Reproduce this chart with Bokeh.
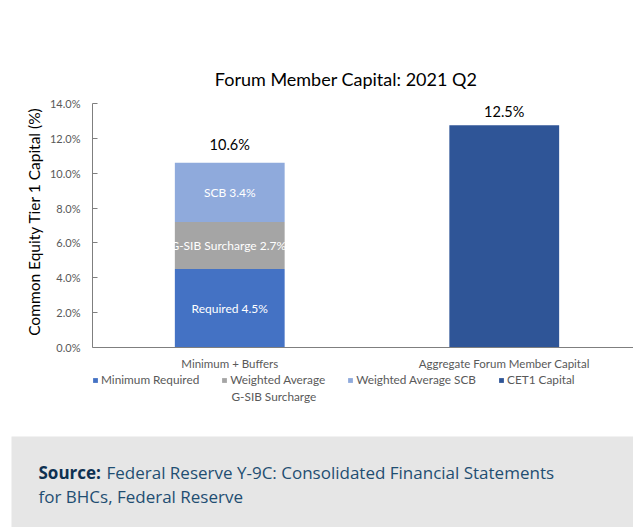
from bokeh.plotting import figure
from bokeh.models import (Range1d, FixedTicker, PrintfTickFormatter, Legend,
                          LegendItem, Label)
from bokeh.layouts import column
from bokeh.embed import file_html
from bokeh.resources import INLINE
from bokeh.core.properties import value

# ---------------- data ----------------
categories = ["Minimum + Buffers", "Aggregate Forum Member Capital"]
stack_names = ["Minimum Required", "Weighted Average\nG-SIB Surcharge", "Weighted Average SCB"]
stack_values = [4.5, 2.7, 3.4]
stack_labels = ["Required 4.5%", "G-SIB Surcharge  2.7%", "SCB 3.4%"]
stack_colors = ["#4472C4", "#A5A5A5", "#8FAADC"]
cet1_name = "CET1 Capital"
cet1_value = 12.75
cet1_color = "#2F5597"
total_labels = ["10.6%", "12.5%"]
y_ticks = [0, 2, 4, 6, 8, 10, 12, 14]
title_text = "Forum Member Capital: 2021 Q2"
y_title = "Common Equity Tier 1 Capital (%)"
source_bold = "Source:"
source_lines = ["Federal Reserve Y-9C: Consolidated Financial Statements",
                "for BHCs, Federal Reserve"]

FONT = "Lato"
xs = [i + 0.5 for i in range(len(categories))]

PX = 244 / 14.0            # pixels per percentage point (0% at y=347, 14% at y=103)
XPX = 274.5                # pixels per category
FRAME_TOP, FRAME_BOT = 36, 406
y_start = -(FRAME_BOT - 347) / PX
y_end = y_ticks[-1] + (103 - FRAME_TOP) / PX

p = figure(width=633, height=436, x_range=Range1d(0, 541 / XPX), y_range=Range1d(y_start, y_end),
           output_backend="svg", toolbar_location=None,
           min_border_left=92, min_border_right=0, min_border_top=FRAME_TOP,
           min_border_bottom=436 - FRAME_BOT,
           background_fill_color="white", border_fill_color="white", outline_line_color=None)
p.grid.visible = False
p.frame_align = False

# stacked bar
renderers = []
bottom = 0.0
mids = []
for name, val, col in zip(stack_names, stack_values, stack_colors):
    r = p.vbar(x=[xs[0]], bottom=[bottom], top=[bottom + val], width=0.4,
               fill_color=col, line_color=None)
    renderers.append(r)
    mids.append(bottom + val / 2)
    bottom += val
r4 = p.vbar(x=[xs[1]], bottom=[0], top=[cet1_value], width=0.4, fill_color=cet1_color, line_color=None)
renderers.append(r4)

p.text(x=[xs[0]] * len(stack_labels), y=mids, text=stack_labels, text_color="white",
       text_align="center", text_baseline="middle", text_font=value(FONT), text_font_size="12px")

p.text(x=xs, y=[bottom, cet1_value], text=total_labels, y_offset=[-18, -14], text_color="black",
       text_align="center", text_baseline="middle", text_font=value(FONT), text_font_size="14.5px")

p.add_layout(Label(x=(345.5 - 92) / XPX, y=(347.3 - 79) / PX, text=title_text,
                   text_align="center", text_baseline="middle", text_font=FONT,
                   text_font_size="18px", text_color="black"))

# axes
p.yaxis.bounds = (y_ticks[0], y_ticks[-1])
p.yaxis.ticker = FixedTicker(ticks=y_ticks)
p.yaxis.formatter = PrintfTickFormatter(format="%.1f%%")
p.yaxis.axis_label = y_title
p.yaxis.axis_label_text_font = FONT
p.yaxis.axis_label_text_font_size = "15.5px"
p.yaxis.axis_label_text_font_style = "normal"
p.yaxis.axis_label_text_color = "black"
p.yaxis.axis_label_standoff = 4
p.yaxis.major_label_text_font = FONT
p.yaxis.major_label_text_font_size = "11px"
p.yaxis.major_label_text_color = "#595959"
p.yaxis.major_label_standoff = 12
p.yaxis.axis_line_color = "#7f7f7f"
p.yaxis.major_tick_line_color = "#7f7f7f"
p.yaxis.major_tick_in = 5
p.yaxis.major_tick_out = 0
p.yaxis.minor_tick_line_color = None

p.xaxis.fixed_location = 0
p.xaxis.ticker = FixedTicker(ticks=xs)
p.xaxis.major_label_overrides = {x: c for x, c in zip(xs, categories)}
p.xaxis.major_label_text_font = FONT
p.xaxis.major_label_text_font_size = "11.5px"
p.xaxis.major_label_text_color = "#595959"
p.xaxis.major_label_standoff = 9
p.xaxis.axis_line_color = "#7f7f7f"
p.xaxis.major_tick_line_color = None
p.xaxis.major_tick_in = 0
p.xaxis.major_tick_out = 0
p.xaxis.minor_tick_line_color = None

# legend: first line of each name in the legend, wrapped second line as a label
legend_names = stack_names + [cet1_name]
legend = Legend(items=[LegendItem(label=n.split("\n")[0], renderers=[r])
                       for n, r in zip(legend_names, renderers)],
                orientation="horizontal", location=(0, 19),
                glyph_width=6, glyph_height=6, label_standoff=3, spacing=22,
                padding=0, margin=0, border_line_alpha=0, background_fill_alpha=0,
                label_text_font=FONT, label_text_font_size="11.8px",
                label_text_color="#595959", label_height=12)
p.add_layout(legend, "center")
for n in legend_names:
    if "\n" in n:
        p.add_layout(Label(x=(231 - 92) / XPX, y=(347.3 - 396) / PX, text=n.split("\n")[1],
                           text_baseline="middle", text_font=FONT, text_font_size="11.8px",
                           text_color="#595959"))

# footer
f = figure(width=633, height=91, x_range=Range1d(0, 622), y_range=Range1d(0, 91),
           x_axis_location=None, y_axis_location=None,
           min_border_left=11, min_border_right=0, min_border_top=0, min_border_bottom=0,
           background_fill_color="#e6e6e6", border_fill_color="white", outline_line_color=None,
           toolbar_location=None, output_backend="svg")
f.grid.visible = False
f.frame_align = False
f.add_layout(Label(x=27, y=55, text=source_bold, text_font="Open Sans", text_font_style="bold",
                   text_font_size="17px", text_color="#0e3152", text_baseline="middle"))
f.add_layout(Label(x=95, y=55, text=source_lines[0], text_font="Open Sans",
                   text_font_size="17px", text_color="#1f4e72", text_baseline="middle"))
f.add_layout(Label(x=27, y=31, text=source_lines[1], text_font="Open Sans",
                   text_font_size="17px", text_color="#1f4e72", text_baseline="middle"))

layout = column(p, f, spacing=0)
open("out.html", "w").write(file_html(layout, INLINE))
